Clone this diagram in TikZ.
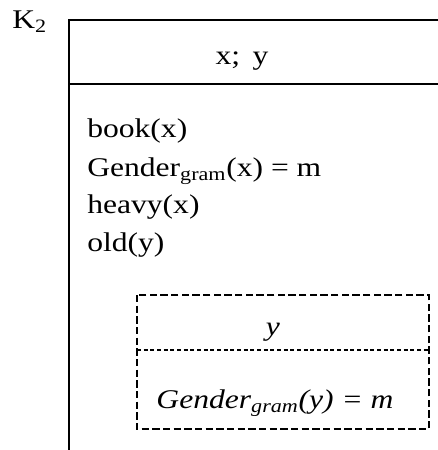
\documentclass[tikz,border=0pt]{standalone}
\usepackage{fontspec}
\setmainfont{Liberation Serif}[FakeStretch=1.17]
\usetikzlibrary{positioning}
\newcommand{\drssize}{\fontsize{20.25pt}{28.5pt}\selectfont}
\tikzset{
  drsline/.style={line width=2.2pt, line join=miter},
  univline/.style={line width=1.4pt},
  embox/.style={line width=1.9pt, dash pattern=on 5.5pt off 2.5pt},
  emline/.style={line width=0.9pt, dash pattern=on 3pt off 2pt},
  cond/.style={anchor=base west, inner sep=0pt, font=\drssize},
  ref/.style={anchor=base, inner sep=0pt, font=\drssize},
}

\begin{document}
\begin{tikzpicture}[x=0.75pt, y=-0.75pt]
  \useasboundingbox (0,0) rectangle (438,450);

  % outer box (open to the right and bottom)
  \coordinate (topL) at (69,20);
  \coordinate (topR) at (440,20);
  \coordinate (botL) at (69,452);
  \coordinate (divL) at (69,84);
  \coordinate (divR) at (440,84);
  \draw[drsline] (botL) -- (topL) -- (topR);
  \draw[univline] (divL) -- (divR);

  \node[cond] (name) at (12,28) {K\textsubscript{2}};
  \node[ref] (univ) at (242,64) {x;\, y};

  % conditions
  \node[cond] (book)   at (87,137) {book(x)};
  \node[cond] (gender) at (87,176) {Gender\textsubscript{gram}(x) = m};
  \node[cond] (heavy)  at (87,213) {heavy(x)};
  \node[cond] (old)    at (87,251) {old(y)};

  % embedded box
  \coordinate (embTL) at (137,295);
  \coordinate (embBR) at (429,429);
  \coordinate (embL) at (137,350);
  \coordinate (embR) at (429,350);
  \draw[embox] (embTL) rectangle (embBR);
  \draw[emline] (embL) -- (embR);

  \node[ref, font=\drssize\itshape] (embuniv) at (273,335) {y};
  \node[ref, font=\drssize\itshape] (embcond) at (275,408)
    {Gender\textsubscript{gram}(y) = m};
\end{tikzpicture}
\end{document}
